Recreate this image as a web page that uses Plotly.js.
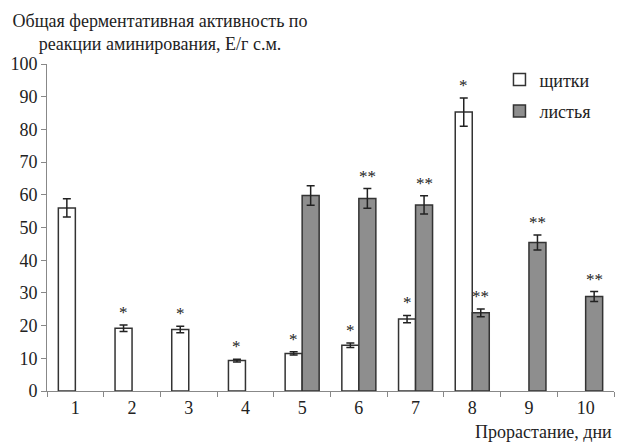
<!DOCTYPE html>
<html><head><meta charset="utf-8">
<script src="https://cdn.plot.ly/plotly-3.0.1.min.js"></script>
<style>html,body{margin:0;padding:0;background:#fff}#c{width:622px;height:447px}</style>
</head><body><div id="c"></div>
<script>
const days = ['1','2','3','4','5','6','7','8','9','10'];
const shchitki = [56, 19.2, 18.8, 9.3, 11.5, 14, 22, 85.3, null, null];
const shchitkiErr = [2.8, 1.0, 1.0, 0.4, 0.5, 0.7, 1.1, 4.3, null, null];
const shchitkiSig = ['', '*', '*', '*', '*', '*', '*', '*', '', ''];
const listya = [null, null, null, null, 59.8, 58.9, 56.9, 23.9, 45.4, 28.9];
const listyaErr = [null, null, null, null, 3.0, 3.0, 2.8, 1.2, 2.3, 1.5];
const listyaSig = ['', '', '', '', '', '**', '**', '**', '**', '**'];

const font = 'Liberation Serif';
const barLine = {color: '#333333', width: 1.5};
const errStyle = {type: 'data', visible: true, thickness: 1.5, width: 4, color: '#222222'};

const traces = [
  {type: 'bar', name: 'щитки', x: days, y: shchitki, legendgroup: 'a',
   marker: {color: '#ffffff', line: barLine},
   error_y: Object.assign({array: shchitkiErr}, errStyle)},
  {type: 'bar', name: 'листья', x: days, y: listya, legendgroup: 'b',
   marker: {color: '#8e8e8e', line: barLine},
   error_y: Object.assign({array: listyaErr}, errStyle)}
];

const annotations = [];
days.forEach((d, i) => {
  if (shchitkiSig[i]) annotations.push({x: i, y: shchitki[i] + shchitkiErr[i], xref: 'x', yref: 'y',
    text: shchitkiSig[i], showarrow: false, xshift: -8.5, yanchor: 'bottom', yshift: 1,
    font: {family: font, size: 17, color: '#222'}});
  if (listyaSig[i]) annotations.push({x: i, y: listya[i] + listyaErr[i], xref: 'x', yref: 'y',
    text: listyaSig[i], showarrow: false, xshift: 8.5, yanchor: 'bottom', yshift: 1,
    font: {family: font, size: 17, color: '#222'}});
});
annotations.push({xref: 'paper', yref: 'paper', x: 1, y: -0.09, xanchor: 'right', yanchor: 'top',
  text: 'Прорастание, дни', showarrow: false, font: {family: font, size: 18, color: '#222'}});

const layout = {
  width: 622, height: 447,
  margin: {l: 47, r: 8, t: 64, b: 56},
  paper_bgcolor: '#fff', plot_bgcolor: '#fff',
  font: {family: font, size: 18, color: '#222'},
  title: {text: 'Общая ферментативная активность по<br>реакции аминирования, Е/г с.м.',
    x: 160/622, xanchor: 'center', xref: 'container', y: 0.94, yanchor: 'top', yref: 'container',
    font: {family: font, size: 18, color: '#222'}},
  barmode: 'group', bargap: 0.4, bargroupgap: 0,
  showlegend: true,
  legend: {x: 0.798, y: 1.008, xanchor: 'left', yanchor: 'top', bgcolor: 'rgba(0,0,0,0)',
    font: {family: font, size: 18, color: '#222'}, tracegroupgap: 5, itemwidth: 30},
  xaxis: {type: 'category', range: [-0.5, 9.5], tickson: 'boundaries', ticks: 'outside', ticklen: 5, tickcolor: '#888',
    showline: true, linecolor: '#888', linewidth: 1, showgrid: false, zeroline: false,
    tickfont: {family: font, size: 18, color: '#222'}},
  yaxis: {range: [0, 100], dtick: 10, ticks: 'outside', ticklen: 5, tickcolor: '#888',
    showline: true, linecolor: '#888', linewidth: 1, showgrid: false, zeroline: false,
    tickfont: {family: font, size: 18, color: '#222'}},
  annotations: annotations
};
Plotly.newPlot('c', traces, layout, {displayModeBar: false});
</script></body></html>
